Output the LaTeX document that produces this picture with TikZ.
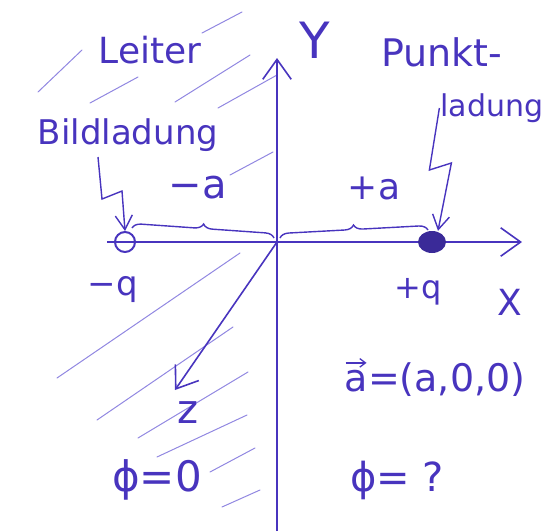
\RequirePackage{fix-cm}
\documentclass[tikz,border=0pt]{standalone}
\usepackage{fontspec}
\setmainfont{DejaVu Sans}
\usepackage{tikz}
\usetikzlibrary{arrows.meta,positioning,decorations.pathreplacing,shapes.geometric}
\definecolor{ink}{RGB}{72,52,190}
\definecolor{hatchink}{RGB}{145,135,225}
\newcommand{\fs}[1]{\fontsize{#1}{#1}\selectfont}

\begin{document}
\begin{tikzpicture}[
  x=1pt, y=-1pt,
  lbl/.style={text=ink, inner sep=1pt},
  ax/.style={draw=ink, line width=1.6pt, -{Straight Barb[length=7mm, width=10mm]}},
  ar/.style={draw=ink, line width=1.4pt, -{Straight Barb[length=5mm, width=6mm]}},
  vecar/.style={draw=ink, line width=1.3pt, -{Straight Barb[length=2mm, width=3mm]}},
  hatch/.style={draw=hatchink, line width=1pt, line cap=round},
  brc/.style={draw=ink, line width=1.4pt, decorate, decoration={brace, amplitude=9pt}},
  chargeopen/.style={circle, draw=ink, line width=2pt, minimum size=20pt, inner sep=0pt},
  chargefull/.style={ellipse, fill=ink!80!black, minimum width=28pt, minimum height=22pt, inner sep=0pt}]
  \useasboundingbox (0,0) rectangle (547,531);
  % conductor hatching
  \foreach \a/\b/\c/\d in {38/92/82/50, 202/33/242/12, 90/103/138/77, 175/102/250/55,
      218/108/277/75, 230/175/273/152, 57/378/240/253, 97/420/233/327,
      138/438/248/372, 157/457/247/415, 210/472/255/448, 222/507/260/490}
    \draw[hatch] (\a,\b) -- (\c,\d);
  % axes
  \coordinate (O) at (277,242);
  \coordinate (ytop) at (277,58);
  \coordinate (ybot) at (277,531);
  \coordinate (xleft) at (107,242);
  \coordinate (xright) at (522,242);
  \coordinate (zend) at (175,390);
  \draw[ax] (ybot) -- (ytop);
  \draw[ax] (xleft) -- (xright);
  \draw[ax] (O) -- (zend);
  % charges
  \node[chargeopen] (img) at (125,242) {};
  \node[chargefull] (pc) at (432,242) {};
  % labels
  \node[lbl, font=\fs{36}] (leiter) at (150,50) {Leiter};
  \node[lbl, font=\fs{50}] (ylbl) at (315,40) {Y};
  \node[lbl, font=\fs{38}] (punkt) at (442,52) {Punkt-};
  \node[lbl, font=\fs{30}] (ladung) at (492,108) {ladung};
  \node[lbl, font=\fs{34}] (bild) at (128,135) {Bildladung};
  \node[lbl, font=\fs{40}] (minusa) at (198,188) {−a};
  \node[lbl, font=\fs{36}] (plusa) at (374,188) {+a};
  \node[lbl, font=\fs{34}] (minusq) at (113,290) {−q};
  \node[lbl, font=\fs{32}] (plusq) at (418,292) {+q};
  \node[lbl, font=\fs{36}] (xlbl) at (510,302) {X};
  \node[lbl, font=\fs{40}] (zlbl) at (188,413) {z};
  \node[lbl, font=\fs{38}] (avec) at (435,380) {a=(a,0,0)};
  \node[lbl, font=\fs{42}] (phizero) at (157,480) {ϕ=0};
  \node[lbl, font=\fs{40}] (phiq) at (397,480) {ϕ= ?};
  % vector arrow over a
  \draw[vecar] ([xshift=2pt,yshift=-1pt]avec.north west) -- ++(21,0);
  % braces
  \draw[brc] (132,228) -- (274,238);
  \draw[brc] (280,238) -- (428,230);
  % pointer arrows
  \draw[ar] (98,157) -- ++(4,42) -- ++(20,-8) -- (img.north);
  \draw[ar] (ladung.west) -- ++(-10,62) -- ++(22,-7) -- ([xshift=6pt]pc.north);
\end{tikzpicture}
\end{document}
